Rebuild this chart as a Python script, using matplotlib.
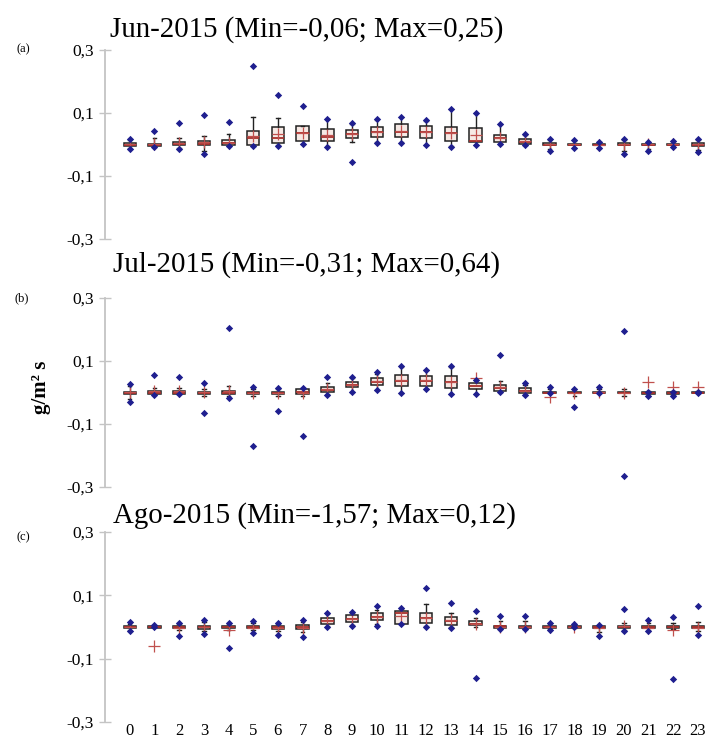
import matplotlib
matplotlib.use("Agg")
import matplotlib.pyplot as plt

plt.rcParams['font.family'] = ['Liberation Serif', 'DejaVu Serif']

hours = list(range(24))
titles = ["Jun-2015 (Min=-0,06; Max=0,25)",
          "Jul-2015 (Min=-0,31; Max=0,64)",
          "Ago-2015 (Min=-1,57; Max=0,12)"]
panel_tags = ["(a)", "(b)", "(c)"]
ytick_vals = [-0.3, -0.1, 0.1, 0.3]
ytick_text = ["-0,3", "-0,1", "0,1", "0,3"]

# June
jun_q1 = [-0.004, -0.004, -0.003, -0.003, -0.002, -0.002, 0.004, 0.011, 0.011, 0.022, 0.025, 0.023,
          0.020, 0.011, 0.009, 0.007, 0.002, -0.003, -0.003, -0.003, -0.003, -0.003, -0.003, -0.004]
jun_med = [0.0, 0.0, 0.002, 0.003, 0.004, 0.022, 0.020, 0.035, 0.023, 0.034, 0.039, 0.041,
           0.039, 0.035, 0.012, 0.020, 0.008, 0.0, 0.0, 0.0, 0.0, 0.0, 0.0, 0.0]
jun_q3 = [0.004, 0.003, 0.007, 0.012, 0.014, 0.044, 0.056, 0.059, 0.048, 0.046, 0.057, 0.065,
          0.059, 0.055, 0.051, 0.030, 0.016, 0.004, 0.003, 0.003, 0.004, 0.003, 0.003, 0.006]
jun_mean = [0.003, 0.002, 0.004, 0.008, 0.006, 0.028, 0.034, 0.037, 0.030, 0.034, 0.040, 0.042,
            0.040, 0.038, 0.030, 0.022, 0.010, 0.001, 0.001, 0.0, 0.002, 0.001, 0.001, 0.001]
jun_wlo = [-0.012, -0.005, -0.010, -0.020, -0.004, -0.004, -0.003, 0.002, -0.006, 0.009, 0.008, 0.008,
           0.0, -0.005, -0.001, 0.003, 0.0, -0.015, -0.010, -0.010, -0.020, -0.015, -0.007, -0.018]
jun_whi = [0.014, 0.020, 0.020, 0.027, 0.033, 0.088, 0.083, 0.060, 0.081, 0.066, 0.078, 0.086,
           0.076, 0.112, 0.099, 0.065, 0.030, 0.015, 0.012, 0.008, 0.015, 0.008, 0.010, 0.015]
jun_min = [-0.015, -0.007, -0.014, -0.031, -0.005, -0.004, -0.004, 0.002, -0.009, -0.057, 0.006, 0.006,
           -0.002, -0.007, -0.002, 0.002, -0.001, -0.020, -0.012, -0.012, -0.030, -0.020, -0.009, -0.024]
jun_max = [0.017, 0.043, 0.067, 0.094, 0.072, 0.249, 0.157, 0.122, 0.081, 0.069, 0.080, 0.088,
           0.078, 0.112, 0.099, 0.065, 0.033, 0.017, 0.014, 0.009, 0.017, 0.009, 0.012, 0.017]

# July
jul_q1 = [-0.004, -0.004, -0.004, -0.004, -0.004, -0.004, -0.004, -0.005, 0.003, 0.016, 0.024, 0.021,
          0.022, 0.015, 0.010, 0.006, -0.001, -0.003, -0.003, -0.003, -0.003, -0.004, -0.004, -0.003]
jul_med = [0.0, 0.0, 0.0, 0.0, 0.0, 0.0, 0.0, 0.001, 0.009, 0.024, 0.034, 0.038,
           0.038, 0.033, 0.020, 0.014, 0.005, 0.0, 0.0, 0.0, 0.0, 0.0, 0.0, 0.0]
jul_q3 = [0.003, 0.004, 0.004, 0.003, 0.004, 0.003, 0.003, 0.010, 0.017, 0.032, 0.045, 0.056,
          0.053, 0.052, 0.031, 0.024, 0.013, 0.003, 0.003, 0.003, 0.003, 0.003, 0.003, 0.003]
jul_mean = [0.001, 0.005, 0.006, 0.003, 0.005, -0.002, 0.0, -0.002, 0.010, 0.025, 0.035, 0.039,
            0.039, 0.034, 0.046, 0.016, 0.006, -0.013, 0.0, 0.002, 0.0, 0.034, 0.019, 0.019]
jul_wlo = [-0.020, -0.006, -0.004, -0.010, -0.010, -0.010, -0.010, -0.010, -0.006, 0.003, 0.009, 0.0,
           0.012, -0.004, -0.004, 0.003, -0.008, -0.003, -0.010, -0.003, -0.010, -0.010, -0.008, -0.002]
jul_whi = [0.020, 0.015, 0.015, 0.012, 0.020, 0.012, 0.010, 0.013, 0.030, 0.045, 0.060, 0.080,
           0.070, 0.080, 0.040, 0.035, 0.025, 0.012, 0.010, 0.012, 0.012, 0.004, 0.004, 0.004]
jul_min = [-0.029, -0.008, -0.005, -0.066, -0.016, -0.170, -0.059, -0.138, -0.008, 0.002, 0.008, 0.0,
           0.011, -0.005, -0.005, 0.003, -0.009, 0.0, -0.045, -0.002, -0.265, -0.012, -0.010, -0.002]
jul_max = [0.026, 0.056, 0.048, 0.031, 0.204, 0.018, 0.013, 0.015, 0.048, 0.050, 0.064, 0.084,
           0.071, 0.084, 0.040, 0.119, 0.031, 0.018, 0.012, 0.018, 0.196, 0.002, 0.002, 0.002]

# August
ago_q1 = [-0.004, -0.003, -0.004, -0.005, -0.004, -0.004, -0.005, -0.005, 0.010, 0.015, 0.021, 0.008,
          0.012, 0.007, 0.005, -0.003, -0.003, -0.003, -0.003, -0.004, -0.003, -0.003, -0.003, -0.004]
ago_med = [0.0, 0.0, 0.0, 0.0, 0.0, 0.0, 0.0, 0.0, 0.018, 0.025, 0.032, 0.044,
           0.030, 0.020, 0.010, 0.002, 0.0, 0.0, 0.0, 0.0, 0.0, 0.0, 0.0, 0.0]
ago_q3 = [0.003, 0.003, 0.003, 0.004, 0.004, 0.003, 0.004, 0.005, 0.028, 0.037, 0.044, 0.049,
          0.044, 0.031, 0.018, 0.004, 0.004, 0.003, 0.003, 0.003, 0.004, 0.003, 0.003, 0.004]
ago_mean = [0.0, -0.059, -0.003, 0.0, -0.008, -0.002, -0.002, -0.003, 0.018, 0.026, 0.032, 0.036,
            0.030, 0.021, 0.008, 0.001, 0.0, -0.001, 0.0, -0.004, 0.003, -0.003, -0.008, -0.003]
ago_wlo = [-0.008, 0.0, -0.010, -0.012, -0.010, -0.010, -0.012, -0.015, 0.002, 0.005, 0.008, 0.008,
           0.002, 0.0, 0.0, -0.004, -0.006, -0.007, -0.003, -0.015, -0.008, -0.010, -0.005, -0.012]
ago_whi = [0.010, 0.004, 0.008, 0.015, 0.010, 0.012, 0.008, 0.015, 0.040, 0.045, 0.055, 0.058,
           0.074, 0.044, 0.030, 0.020, 0.020, 0.008, 0.005, 0.004, 0.012, 0.012, 0.012, 0.015]
ago_min = [-0.013, 0.0, -0.029, -0.022, -0.066, -0.020, -0.025, -0.032, 0.0, 0.002, 0.003, 0.008,
           0.0, -0.004, -0.161, -0.006, -0.006, -0.009, -0.001, -0.029, -0.013, -0.013, -0.164, -0.024]
ago_max = [0.015, 0.007, 0.012, 0.023, 0.013, 0.018, 0.012, 0.021, 0.045, 0.047, 0.065, 0.060,
           0.124, 0.076, 0.050, 0.034, 0.034, 0.012, 0.008, 0.005, 0.056, 0.023, 0.031, 0.067]

months = [
    (jun_q1, jun_med, jun_q3, jun_mean, jun_wlo, jun_whi, jun_min, jun_max),
    (jul_q1, jul_med, jul_q3, jul_mean, jul_wlo, jul_whi, jul_min, jul_max),
    (ago_q1, ago_med, ago_q3, ago_mean, ago_wlo, ago_whi, ago_min, ago_max),
]

W, H = 709, 740
fig = plt.figure(figsize=(W / 100, H / 100), dpi=100)

# axes boxes in pixels: (top of 0,3 tick, bottom of -0,3 tick)
axes_px = [(50, 239), (298, 487), (532, 722)]
title_px = [(110, 37), (113, 272), (113, 523)]
tag_px = [(23, 49), (22, 298), (23, 537)]
left_px = 105

for i, (q1, med, q3, mean, wlo, whi, vmin, vmax) in enumerate(months):
    top, bot = axes_px[i]
    ax = fig.add_axes([left_px / W, 1 - bot / H, (W - left_px) / W, (bot - top) / H])

    stats = []
    for h in hours:
        stats.append(dict(q1=q1[h], med=med[h], q3=q3[h], mean=mean[h],
                          whislo=wlo[h], whishi=whi[h], fliers=[]))
    ax.bxp(stats, positions=hours, widths=0.5, patch_artist=True,
           showmeans=True, showfliers=False, capwidths=0.14,
           boxprops=dict(facecolor='#f6e9e4', edgecolor='#222222', linewidth=1.1),
           medianprops=dict(color='#a8302c', linewidth=1.3),
           whiskerprops=dict(color='#222222', linewidth=1.0),
           capprops=dict(color='#222222', linewidth=1.0),
           meanprops=dict(marker='+', markeredgecolor='#c0504d', markersize=8,
                          markeredgewidth=0.9))
    ax.scatter(hours, vmax, marker='D', s=14, color='#1f1f8f', zorder=5, linewidths=0)
    ax.scatter(hours, vmin, marker='D', s=14, color='#1f1f8f', zorder=5, linewidths=0)

    ax.set_xlim(-1.0, 23.45)
    ax.set_ylim(-0.3, 0.3)
    ax.set_yticks(ytick_vals)
    ax.set_yticklabels(ytick_text, fontsize=12.5)
    for s in ['top', 'right', 'bottom']:
        ax.spines[s].set_visible(False)
    ax.spines['left'].set_color('#c4c4c4')
    ax.spines['left'].set_linewidth(1.3)
    ax.tick_params(axis='y', direction='inout', length=8, color='#c4c4c4', width=1.0, pad=4)
    ax.set_xticks(hours)
    if i == 2:
        ax.set_xticklabels([str(h) for h in hours], fontsize=12)
        ax.tick_params(axis='x', length=0, pad=1)
    else:
        ax.set_xticklabels([])
        ax.tick_params(axis='x', length=0)

    tx, ty = title_px[i]
    fig.text(tx / W, 1 - ty / H, titles[i], fontsize=20.8, va='baseline', ha='left')
    gx, gy = tag_px[i]
    fig.text(gx / W, 1 - gy / H, panel_tags[i], fontsize=9, va='center', ha='center')

fig.text(41 / W, 1 - 387 / H, "g/m² s", fontsize=15, fontweight='bold',
         rotation=90, va='center', ha='center')

fig.savefig("out.png", dpi=100)
